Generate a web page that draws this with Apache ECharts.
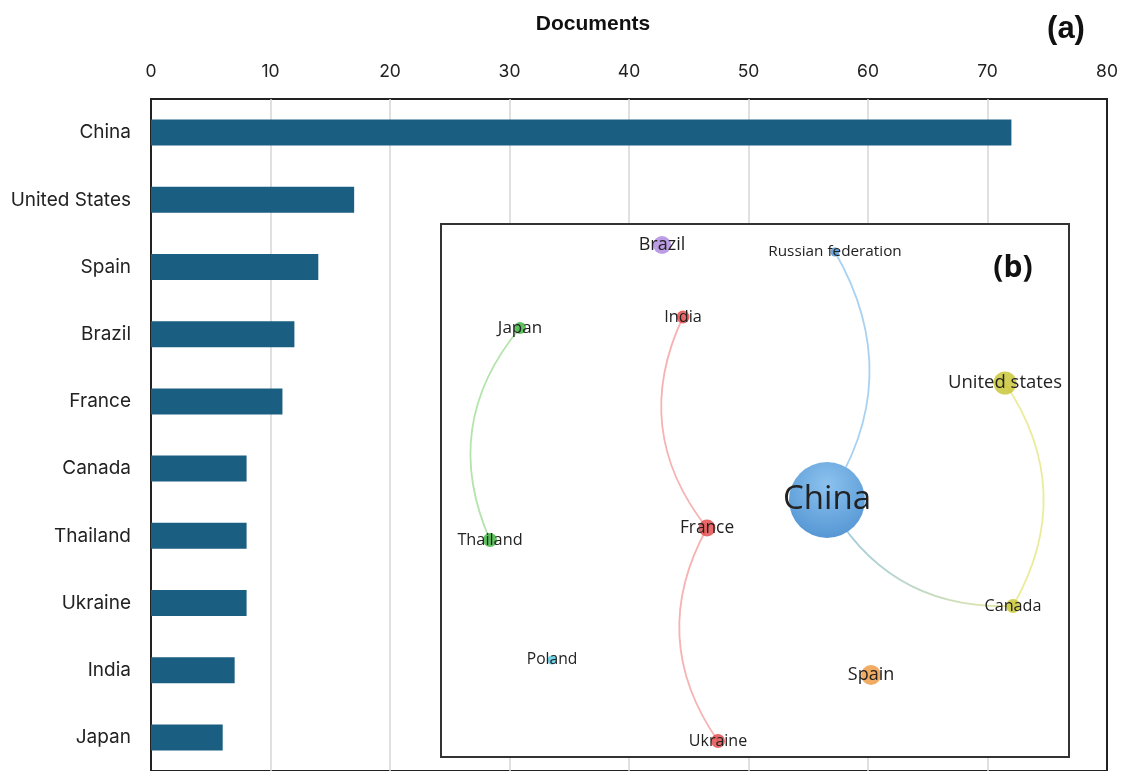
<!DOCTYPE html>
<html>
<head>
<meta charset="utf-8">
<script src="https://cdn.jsdelivr.net/npm/echarts@6/dist/echarts.min.js"></script>
<style>html,body{margin:0;padding:0;background:#fff;}#main{width:1121px;height:771px;}</style>
</head>
<body>
<div id="main"></div>
<script>
// (a) documents per country
const countries = ['China','United States','Spain','Brazil','France','Canada','Thailand','Ukraine','India','Japan'];
const documents = [72, 17, 14, 12, 11, 8, 8, 8, 7, 6];
const xTicks = [0, 10, 20, 30, 40, 50, 60, 70, 80];

// (b) co-authorship network (VOSviewer-like map coordinates, weight = documents)
const netNames = ['Brazil','Russian federation','India','Japan','United states','China','Thailand','France','Canada','Poland','Spain','Ukraine'];
const netMapX  = [221, 394, 242, 79, 564, 386, 49, 266, 572, 111, 430, 277];
const netMapY  = [21, 28, 93, 104, 159, 276, 316, 304, 382, 436, 451, 517];
const netWeight = [12, 3, 7, 6, 17, 72, 8, 11, 8, 3, 14, 8];
const netCluster = [4, 3, 1, 2, 5, 3, 2, 1, 5, 6, 7, 1];
const netLinks = [
  ['Russian federation','China'],
  ['France','India'],
  ['Ukraine','France'],
  ['Thailand','Japan'],
  ['United states','Canada'],
  ['Canada','China']
];

// styling
const labelSizes = {'Brazil':18,'Russian federation':15.3,'India':16.3,'Japan':17,'United states':18.5,'China':33,'Thailand':16.3,'France':17.3,'Canada':16.2,'Poland':15.6,'Spain':18,'Ukraine':16};
const clusterColors = {1:'rgba(226,72,72,0.82)',2:'rgba(60,180,60,0.82)',3:'rgba(80,152,216,0.85)',4:'rgba(176,140,224,0.85)',5:'rgba(200,196,50,0.82)',6:'rgba(90,205,230,0.85)',7:'rgba(240,156,72,0.85)'};
const clusterEdge = {1:'#f7b2b2',2:'#b4e4ac',3:'#a9d2f2',5:'#ebeb9c'};

const chart = echarts.init(document.getElementById('main'), null, {renderer:'canvas'});

const nodes = netNames.map((n,i)=>({
  name: n,
  value: [netMapX[i], netMapY[i]],
  symbolSize: n === 'China' ? 76 : 6 + netWeight[i],
  itemStyle: {color: n === 'China' ? {type:'radial',x:0.5,y:0.3,r:0.75,colorStops:[{offset:0,color:'#8cc2ef'},{offset:1,color:'#5294d2'}]} : clusterColors[netCluster[i]]},
  label: {fontSize: labelSizes[n]}
}));

const links = netLinks.map(([s,t])=>{
  const si = netNames.indexOf(s);
  let color = clusterEdge[netCluster[si]];
  if (s === 'Canada' && t === 'China') {
    color = {type:'linear',x:0,y:0,x2:1,y2:0,colorStops:[{offset:0,color:'#9fc9e6'},{offset:1,color:'#e6e9a4'}]};
  }
  return {source:s, target:t, lineStyle:{color:color, width:1.8, curveness:0.31, opacity:1}};
});

const option = {
  animation: false,
  backgroundColor: '#fff',
  grid: [
    {left:151, top:99, width:956, height:677, show:true, borderColor:'#222', borderWidth:2, backgroundColor:'transparent', z:0},
    {left:441, top:224, width:628, height:533, show:true, borderColor:'#333', borderWidth:2, backgroundColor:'#fff', z:5}
  ],
  xAxis: [
    {type:'value', gridIndex:0, position:'top', min:0, max:80, interval:10,
     axisLine:{show:false}, axisTick:{show:false},
     axisLabel:{fontFamily:'Inter', fontSize:17.5, color:'#222', margin:18,
       formatter: v => xTicks.includes(v) ? String(v) : ''},
     splitLine:{show:true, showMinLine:false, showMaxLine:false, lineStyle:{color:'#d6d6d6', width:1.5}}},
    {type:'value', gridIndex:1, min:0, max:628, show:false, splitLine:{show:false}}
  ],
  yAxis: [
    {type:'category', gridIndex:0, data:countries, inverse:true,
     axisLine:{show:false}, axisTick:{show:false},
     axisLabel:{fontFamily:'Inter', fontSize:19, color:'#222', margin:20, padding:[4,0,0,0]}},
    {type:'value', gridIndex:1, min:0, max:533, inverse:true, show:false, splitLine:{show:false}}
  ],
  series: [
    {type:'bar', xAxisIndex:0, yAxisIndex:0, data:documents, barWidth:26,
     itemStyle:{color:'#1a5f82'}, silent:true},
    {type:'graph', layout:'none', coordinateSystem:'cartesian2d', xAxisIndex:1, yAxisIndex:1,
     z:8, data:nodes, links:links, silent:true,
     label:{show:true, position:'inside', fontFamily:'Open Sans', color:'#222', fontSize:15},
     lineStyle:{width:1.8},
     emphasis:{disabled:true}}
  ],
  graphic: [
    {type:'text', x:593, y:24, z:20, style:{text:'Documents', align:'center', verticalAlign:'middle', fontFamily:'Liberation Sans', fontWeight:'bold', fontSize:21, fill:'#111'}},
    {type:'text', x:1066, y:29, z:20, style:{text:'(a)', align:'center', verticalAlign:'middle', fontFamily:'Liberation Sans', fontWeight:'bold', fontSize:31, fill:'#111'}},
    {type:'text', x:1013, y:268, z:20, style:{text:'(b)', align:'center', verticalAlign:'middle', fontFamily:'Open Sans', fontWeight:'bold', fontSize:30, fill:'#111'}}
  ]
};
chart.setOption(option);
</script>
</body>
</html>
